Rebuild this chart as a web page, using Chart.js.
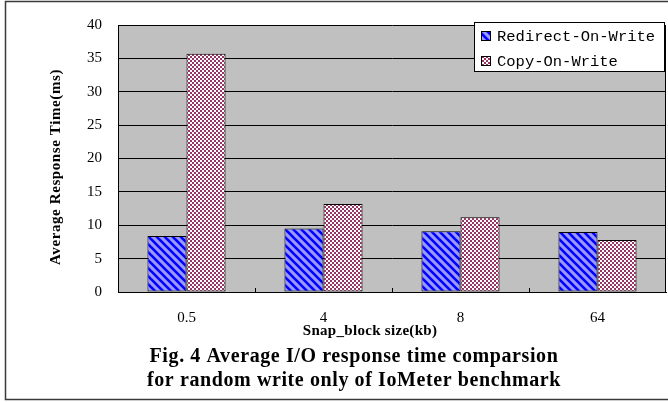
<!DOCTYPE html>
<html>
<head>
<meta charset="utf-8">
<script src="https://cdn.jsdelivr.net/npm/chart.js@4.4.1/dist/chart.umd.min.js"></script>
<style>
  html, body { margin: 0; padding: 0; background: #ffffff; }
  #wrap { width: 668px; height: 402px; position: relative; }
</style>
</head>
<body>
<div id="wrap"><canvas id="c" width="668" height="402"></canvas></div>
<script>
// Snapshot block sizes (kb) and mean response times (ms)
const blockSizes = ['0.5', '4', '8', '64'];
const redirectOnWrite = [8.4, 9.5, 9.1, 9.0];
const copyOnWrite = [35.7, 13.2, 11.2, 7.8];
const yTicks = [0, 5, 10, 15, 20, 25, 30, 35, 40];

const seriesNames = ['Redirect-On-Write', 'Copy-On-Write'];
const yTitle = 'Average Response Time(ms)';
const xTitle = 'Snap_block size(kb)';
const captionLines = [
  'Fig. 4 Average I/O response time comparsion',
  'for random write only of IoMeter benchmark'
];

// Fill patterns: blue diagonal hatch and maroon/white checkerboard
function hatchPattern(ctx) {
  const t = document.createElement('canvas');
  t.width = 8; t.height = 8;
  const g = t.getContext('2d');
  g.fillStyle = '#9999ff';
  g.fillRect(0, 0, 8, 8);
  g.strokeStyle = '#0000ff';
  g.lineWidth = 2.6;
  for (const off of [-8, 0, 8]) {
    g.beginPath();
    g.moveTo(off - 1, -1);
    g.lineTo(off + 9, 9);
    g.stroke();
  }
  return ctx.createPattern(t, 'repeat');
}
function checkerPattern(ctx) {
  const t = document.createElement('canvas');
  t.width = 4; t.height = 4;
  const g = t.getContext('2d');
  g.fillStyle = '#993366';
  g.fillRect(0, 0, 4, 4);
  g.fillStyle = '#ffffff';
  g.fillRect(0, 0, 2, 2);
  g.fillRect(2, 2, 2, 2);
  return ctx.createPattern(t, 'repeat');
}

const canvas = document.getElementById('c');
const ctx = canvas.getContext('2d');
const fills = [hatchPattern(ctx), checkerPattern(ctx)];

const serif = '"Liberation Serif", "Times New Roman", serif';

// Gray plot background, outer frame, inward category ticks, titles and legend
const decor = {
  id: 'decor',
  beforeDraw(chart) {
    const c = chart.ctx, a = chart.chartArea;
    c.save();
    c.fillStyle = '#c0c0c0';
    c.fillRect(a.left, a.top, a.right - a.left, a.bottom - a.top);
    c.restore();
  },
  afterDatasetsDraw(chart) {
    const c = chart.ctx, a = chart.chartArea, xs = chart.scales.x;
    c.save();
    c.strokeStyle = '#000';
    c.lineWidth = 1;
    c.beginPath();
    c.moveTo(a.right - 0.5, a.top);
    c.lineTo(a.right - 0.5, a.bottom);
    for (let i = 0; i < blockSizes.length - 1; i++) {
      const x = Math.round((xs.getPixelForTick(i) + xs.getPixelForTick(i + 1)) / 2) + 0.5;
      c.moveTo(x, a.bottom);
      c.lineTo(x, a.bottom - 4);
    }
    c.stroke();
    c.restore();
  },
  afterDraw(chart) {
    const c = chart.ctx;
    c.save();
    // outer frame
    c.strokeStyle = '#3a3a3a';
    c.lineWidth = 1.5;
    c.beginPath();
    c.moveTo(chart.width + 2, 1.5);
    c.lineTo(5.5, 1.5);
    c.lineTo(5.5, 399.5);
    c.lineTo(chart.width + 2, 399.5);
    c.stroke();

    // axis titles
    c.fillStyle = '#000';
    c.textAlign = 'center';
    c.textBaseline = 'middle';
    c.font = 'bold 15px ' + serif;
    c.letterSpacing = '0.6px';
    c.save();
    c.translate(56, 167);
    c.rotate(-Math.PI / 2);
    c.fillText(yTitle, 0, 0);
    c.restore();
    c.letterSpacing = '0.3px';
    c.fillText(xTitle, 370, 331);

    // caption
    c.font = 'bold 20px ' + serif;
    c.letterSpacing = '0.6px';
    c.fillText(captionLines[0], 354, 357);
    c.fillText(captionLines[1], 354, 381);
    c.letterSpacing = '0px';

    // legend
    const lx = 474.5, ly = 22.5, lw = 190, lh = 49;
    c.fillStyle = '#fff';
    c.fillRect(lx, ly, lw, lh);
    c.strokeStyle = '#000';
    c.lineWidth = 1;
    c.strokeRect(lx, ly, lw, lh);
    c.font = '15.5px "Liberation Mono", "DejaVu Sans Mono", monospace';
    c.textAlign = 'left';
    const rows = [36, 61];
    chart.data.datasets.forEach((ds, i) => {
      const y = rows[i];
      c.fillStyle = ds.backgroundColor;
      c.fillRect(481, y - 5, 10, 10);
      c.strokeStyle = '#000';
      c.strokeRect(481.5, y - 4.5, 9, 9);
      c.fillStyle = '#000';
      c.fillText(ds.label, 497, y + 1);
    });
    c.restore();
  }
};

new Chart(ctx, {
  type: 'bar',
  data: {
    labels: blockSizes,
    datasets: [
      { label: seriesNames[0], data: redirectOnWrite, backgroundColor: fills[0] },
      { label: seriesNames[1], data: copyOnWrite, backgroundColor: fills[1] }
    ]
  },
  options: {
    responsive: false,
    animation: false,
    devicePixelRatio: 1,
    layout: { padding: { left: 0, top: 22, right: 2, bottom: 0 } },
    datasets: {
      bar: {
        borderColor: '#000',
        borderWidth: 1,
        borderSkipped: false,
        categoryPercentage: 0.57,
        barPercentage: 1.0
      }
    },
    plugins: {
      legend: { display: false },
      tooltip: { enabled: false }
    },
    scales: {
      x: {
        grid: { display: false, drawTicks: false },
        border: { display: true, color: '#000', width: 1 },
        ticks: {
          color: '#000',
          font: { family: serif, size: 15 },
          padding: 17,
          maxRotation: 0
        },
        afterFit(scale) { scale.height = 110; }
      },
      y: {
        min: yTicks[0],
        max: yTicks[yTicks.length - 1],
        afterBuildTicks(scale) { scale.ticks = yTicks.map(v => ({ value: v })); },
        grid: { color: '#000', lineWidth: 1, drawTicks: false },
        border: { display: true, color: '#000', width: 1 },
        ticks: {
          color: '#000',
          font: { family: serif, size: 15 },
          padding: 16
        },
        afterFit(scale) { scale.width = 118; }
      }
    }
  },
  plugins: [decor]
});
</script>
</body>
</html>
